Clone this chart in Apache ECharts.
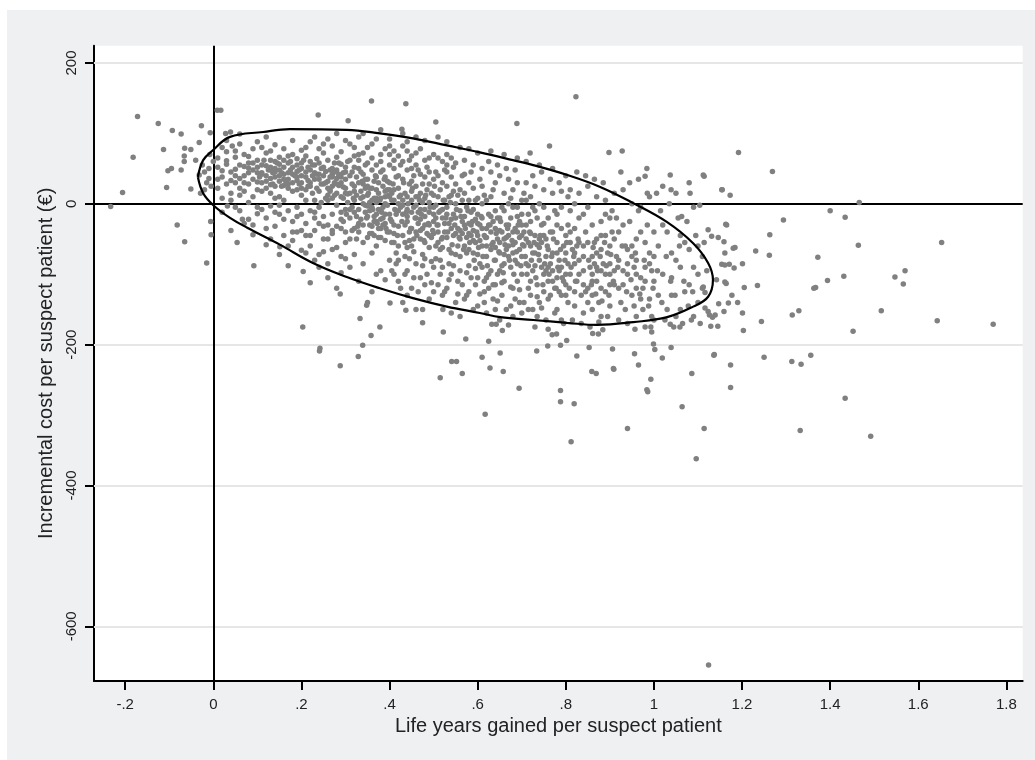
<!DOCTYPE html>
<html>
<head>
<meta charset="utf-8">
<script src="https://cdn.jsdelivr.net/npm/echarts@6/dist/echarts.min.js"></script>
<style>html,body{margin:0;padding:0;background:#fff}#c{width:1035px;height:760px}</style>
</head>
<body>
<div id="c"></div>
<script>
// ---- data ----
const xTicks = [-0.2, 0, 0.2, 0.4, 0.6, 0.8, 1, 1.2, 1.4, 1.6, 1.8];
const yTicks = [-600, -400, -200, 0, 200];
const yGridValues = [200, -200, -400, -600];
const xTitle = 'Life years gained per suspect patient';
const yTitle = 'Incremental cost per suspect patient (€)';

// dense cloud inside / around the ellipse [life years, cost]
const coreSamples = [
[0.01,52],[0.02,38],[0.01,22],[0.03,61],[0.02,8],[0.04,45],[0.05,30],[0.03,74],[0.06,55],[0.04,15],[0.07,40],[0.05,66],[0.08,28],[0.06,12],[0.09,48],[0.07,70],[0.08,58],[0.09,35],[0.1,20],[0.1,62],[0.02,-12],[0.05,-5],[0.08,2],[0.03,90],[0.06,85],[0.09,78],[0.1,44],[0.04,33],[0.07,18],[0.01,65],[0.02,47],[0.06,36],[0.08,51],[0.05,49],[0.03,28],[0.09,10],[0.1,-14],[0.07,-28],[0.04,-38],[0.09,-44],[0.06,99],[0.1,88],[0.02,80],[0.01,35],[0.08,67],[0.05,75],[0.07,53],[0.1,31],[0.03,56],[0.04,5],
[0.11,55],[0.12,40],[0.13,62],[0.14,25],[0.15,48],[0.16,35],[0.17,58],[0.18,42],[0.19,20],[0.2,50],[0.11,30],[0.12,72],[0.13,15],[0.14,45],[0.15,66],[0.16,5],[0.17,28],[0.18,70],[0.19,38],[0.2,12],[0.11,80],[0.12,22],[0.13,48],[0.14,60],[0.15,32],[0.16,52],[0.17,44],[0.18,18],[0.19,64],[0.2,30],[0.11,-8],[0.12,-20],[0.13,-3],[0.14,-32],[0.15,-15],[0.16,-45],[0.17,-10],[0.18,-25],[0.19,-5],[0.2,-38],[0.12,95],[0.14,84],[0.16,78],[0.18,90],[0.2,76],[0.13,36],[0.15,10],[0.17,68],[0.19,46],[0.11,44],[0.12,54],[0.14,38],[0.16,26],[0.18,52],[0.2,58],[0.13,27],[0.15,56],[0.17,22],[0.19,33],[0.16,42],[0.14,8],[0.18,-52],[0.12,-58],[0.2,-66],[0.15,-72],[0.17,-88],[0.19,-40],[0.11,18],[0.13,75],[0.2,40],
[0.21,45],[0.22,30],[0.23,55],[0.24,18],[0.25,40],[0.26,62],[0.27,25],[0.28,48],[0.29,10],[0.3,35],[0.21,20],[0.22,60],[0.23,5],[0.24,42],[0.25,28],[0.26,12],[0.27,50],[0.28,-2],[0.29,38],[0.3,22],[0.21,68],[0.22,-10],[0.23,35],[0.24,58],[0.25,-18],[0.26,32],[0.27,8],[0.28,66],[0.29,-12],[0.3,52],[0.21,-28],[0.22,48],[0.23,-20],[0.24,-5],[0.25,72],[0.26,-30],[0.27,38],[0.28,15],[0.29,56],[0.3,-8],[0.21,80],[0.22,88],[0.23,95],[0.24,78],[0.25,85],[0.26,92],[0.27,82],[0.28,100],[0.29,74],[0.3,90],[0.21,-45],[0.22,-60],[0.23,-38],[0.24,-72],[0.25,-50],[0.26,-85],[0.27,-42],[0.28,-62],[0.29,-98],[0.3,-55],[0.215,33],[0.235,22],[0.255,46],[0.275,30],[0.295,44],[0.225,15],[0.245,28],[0.265,48],[0.285,26],[0.305,14],[0.215,52],[0.235,64],[0.255,8],[0.275,58],[0.295,-25],[0.225,40],[0.245,2],[0.265,20],[0.285,42],[0.305,60],[0.22,-112],[0.26,-105],[0.28,-120],[0.24,-90],[0.3,-78],[0.27,-65],[0.23,-80],[0.29,-35],[0.25,-32],[0.21,5],
[0.31,40],[0.32,25],[0.33,50],[0.34,10],[0.35,35],[0.36,-5],[0.37,20],[0.38,45],[0.39,0],[0.4,30],[0.31,15],[0.32,-12],[0.33,30],[0.34,42],[0.35,-18],[0.36,22],[0.37,-25],[0.38,8],[0.39,38],[0.4,-15],[0.31,-20],[0.32,52],[0.33,-8],[0.34,-30],[0.35,12],[0.36,48],[0.37,2],[0.38,-35],[0.39,18],[0.4,55],[0.31,62],[0.32,5],[0.33,-40],[0.34,28],[0.35,58],[0.36,-42],[0.37,38],[0.38,-10],[0.39,-28],[0.4,10],[0.31,-50],[0.32,-35],[0.33,70],[0.34,-55],[0.35,-48],[0.36,65],[0.37,-60],[0.38,70],[0.39,-52],[0.4,-40],[0.315,28],[0.325,12],[0.335,-22],[0.345,-12],[0.355,2],[0.365,-18],[0.375,-8],[0.385,25],[0.395,-2],[0.405,5],[0.315,-5],[0.325,38],[0.335,18],[0.345,55],[0.355,-30],[0.365,8],[0.375,30],[0.385,-20],[0.395,-40],[0.405,-25],[0.31,85],[0.33,95],[0.35,80],[0.37,92],[0.39,78],[0.32,-72],[0.34,-85],[0.36,-70],[0.38,-95],[0.4,-80],[0.345,-2],[0.355,-10],[0.365,-25],[0.375,15],[0.385,-5],[0.35,-3],[0.36,5],[0.37,-15],[0.38,-22],[0.39,10],[0.33,-110],[0.36,-125],[0.39,-108],[0.35,-140],[0.37,-100],[0.31,-90],[0.34,100],[0.38,105],[0.32,68],[0.4,70],[0.355,22],[0.365,-45],[0.375,-35],[0.345,35],[0.385,48],[0.395,32],[0.335,45],[0.325,-50],[0.405,-55],[0.315,-38],
[0.41,20],[0.42,-10],[0.43,35],[0.44,-25],[0.45,5],[0.46,-40],[0.47,15],[0.48,-18],[0.49,28],[0.5,-5],[0.41,-30],[0.42,40],[0.43,-15],[0.44,10],[0.45,-35],[0.46,25],[0.47,-50],[0.48,38],[0.49,-30],[0.5,12],[0.41,50],[0.42,0],[0.43,-45],[0.44,48],[0.45,-12],[0.46,-2],[0.47,42],[0.48,-55],[0.49,2],[0.5,-42],[0.41,-55],[0.42,-60],[0.43,60],[0.44,-62],[0.45,32],[0.46,55],[0.47,-22],[0.48,8],[0.49,-62],[0.5,35],[0.41,5],[0.42,22],[0.43,-2],[0.44,-8],[0.45,18],[0.46,-20],[0.47,-8],[0.48,-30],[0.49,-12],[0.5,-25],[0.415,-15],[0.425,12],[0.435,-30],[0.445,28],[0.455,-50],[0.465,10],[0.475,-35],[0.485,20],[0.495,-48],[0.505,-60],[0.41,75],[0.43,82],[0.45,68],[0.47,78],[0.49,65],[0.42,-80],[0.44,-95],[0.46,-85],[0.48,-78],[0.5,-90],[0.415,-70],[0.435,-75],[0.455,-68],[0.475,-72],[0.495,-82],[0.425,55],[0.445,62],[0.465,48],[0.485,52],[0.505,45],[0.42,-110],[0.45,-120],[0.48,-115],[0.44,-130],[0.47,-105],[0.5,-125],[0.43,-140],[0.46,-150],[0.41,-100],[0.49,-135],[0.43,100],[0.46,95],[0.4,92],[0.48,90],[0.44,88],[0.455,-5],[0.465,-28],[0.475,2],[0.445,-40],[0.435,15],
[0.51,10],[0.52,-20],[0.53,25],[0.54,-35],[0.55,0],[0.56,-50],[0.57,15],[0.58,-28],[0.59,-8],[0.6,-45],[0.51,-30],[0.52,30],[0.53,-5],[0.54,12],[0.55,-42],[0.56,20],[0.57,-60],[0.58,5],[0.59,-38],[0.6,-15],[0.51,-55],[0.52,-8],[0.53,-48],[0.54,38],[0.55,-20],[0.56,-10],[0.57,-30],[0.58,-65],[0.59,22],[0.6,8],[0.51,40],[0.52,-62],[0.53,45],[0.54,-70],[0.55,28],[0.56,-75],[0.57,42],[0.58,30],[0.59,-70],[0.6,-72],[0.515,-10],[0.525,5],[0.535,-28],[0.545,-15],[0.555,-60],[0.565,-25],[0.575,-5],[0.585,-45],[0.595,-22],[0.605,-30],[0.51,65],[0.53,70],[0.55,58],[0.57,62],[0.59,55],[0.52,-90],[0.54,-100],[0.56,-95],[0.58,-88],[0.6,-105],[0.515,-80],[0.535,-85],[0.555,-110],[0.575,-98],[0.595,-115],[0.525,48],[0.545,52],[0.565,40],[0.585,45],[0.605,35],[0.52,-130],[0.55,-140],[0.58,-125],[0.54,-155],[0.57,-135],[0.6,-145],[0.53,-120],[0.56,-160],[0.51,-115],[0.59,-150],[0.53,88],[0.56,80],[0.51,95],[0.58,78],[0.6,72],[0.555,-35],[0.565,5],[0.575,-48],[0.545,18],[0.535,-65],[0.525,-40],[0.585,-12],[0.595,-55],[0.505,-20],[0.515,20],
[0.61,-20],[0.62,5],[0.63,-40],[0.64,-10],[0.65,-55],[0.66,15],[0.67,-30],[0.68,-70],[0.69,-5],[0.7,-45],[0.61,-60],[0.62,-35],[0.63,10],[0.64,-80],[0.65,-20],[0.66,-50],[0.67,0],[0.68,-40],[0.69,-85],[0.7,-15],[0.61,25],[0.62,-75],[0.63,-65],[0.64,30],[0.65,-95],[0.66,-85],[0.67,-60],[0.68,20],[0.69,-40],[0.7,-75],[0.615,-45],[0.625,-15],[0.635,-25],[0.645,-50],[0.655,-5],[0.665,-30],[0.675,-90],[0.685,-55],[0.695,-25],[0.705,-60],[0.61,50],[0.63,45],[0.65,40],[0.67,35],[0.69,30],[0.62,-105],[0.64,-115],[0.66,-110],[0.68,-120],[0.7,-100],[0.615,-125],[0.635,-135],[0.655,-130],[0.675,-145],[0.695,-140],[0.625,60],[0.645,55],[0.665,50],[0.685,48],[0.705,15],[0.62,-155],[0.65,-165],[0.68,-160],[0.64,-150],[0.67,-172],[0.7,-155],[0.61,-90],[0.66,70],[0.69,65],[0.63,75],[0.65,-70],[0.67,-75],[0.62,-60],[0.64,-35],[0.66,-10],[0.68,-5],[0.7,5],[0.61,0],[0.63,-95],[0.69,-110],[0.655,-40],[0.665,-65],[0.675,-20],[0.685,-80],[0.695,-65],[0.605,-85],[0.615,-110],[0.625,-120],[0.635,20],[0.645,-100],
[0.71,-30],[0.72,-60],[0.73,-10],[0.74,-80],[0.75,-45],[0.76,-20],[0.77,-95],[0.78,-55],[0.79,-35],[0.8,-70],[0.71,-85],[0.72,-25],[0.73,-70],[0.74,-50],[0.75,-100],[0.76,-65],[0.77,-40],[0.78,-15],[0.79,-90],[0.8,-45],[0.71,5],[0.72,10],[0.73,-45],[0.74,0],[0.75,-5],[0.76,-110],[0.77,-70],[0.78,-105],[0.79,-5],[0.8,-100],[0.715,-55],[0.725,-95],[0.735,-115],[0.745,-30],[0.755,-75],[0.765,-40],[0.775,-120],[0.785,-80],[0.795,-60],[0.805,-30],[0.71,30],[0.73,25],[0.75,20],[0.77,15],[0.79,18],[0.72,-130],[0.74,-140],[0.76,-135],[0.78,-150],[0.8,-130],[0.715,-150],[0.735,-160],[0.755,-165],[0.775,-155],[0.795,-170],[0.725,40],[0.745,45],[0.765,35],[0.785,30],[0.805,10],[0.71,60],[0.74,55],[0.77,50],[0.8,40],[0.73,-175],[0.76,-178],[0.79,-165],[0.72,-110],[0.75,-125],[0.78,-30],[0.755,-50],[0.765,-85],[0.745,-90],[0.735,-20],[0.775,-10],[0.785,-125],[0.795,-110],[0.805,-85],[0.715,-120],[0.725,-5],
[0.81,-40],[0.82,-70],[0.83,-20],[0.84,-95],[0.85,-55],[0.86,-30],[0.87,-110],[0.88,-65],[0.89,-45],[0.9,-85],[0.81,-100],[0.82,-35],[0.83,-80],[0.84,-60],[0.85,-120],[0.86,-75],[0.87,-50],[0.88,-25],[0.89,-100],[0.9,-60],[0.81,-10],[0.82,0],[0.83,-55],[0.84,-15],[0.85,-5],[0.86,-130],[0.87,-90],[0.88,-120],[0.89,-15],[0.9,-115],[0.815,-65],[0.825,-110],[0.835,-130],[0.845,-40],[0.855,-90],[0.865,-55],[0.875,-140],[0.885,-85],[0.895,-70],[0.905,-40],[0.81,20],[0.83,15],[0.85,25],[0.87,10],[0.89,5],[0.82,-145],[0.84,-155],[0.86,-150],[0.88,-160],[0.9,-145],[0.815,-165],[0.835,-170],[0.855,-175],[0.875,-168],[0.895,-160],[0.825,45],[0.845,40],[0.865,35],[0.885,30],[0.905,-10],[0.84,-115],[0.86,-100],[0.88,-45],[0.82,-125],[0.9,-20],
[0.91,-50],[0.92,-80],[0.93,-30],[0.94,-100],[0.95,-60],[0.96,-120],[0.97,-40],[0.98,-90],[0.99,-70],[1.0,-110],[0.91,-115],[0.92,-40],[0.93,-95],[0.94,-65],[0.95,-130],[0.96,-80],[0.97,-105],[0.98,-55],[0.99,-135],[1.0,-75],[0.915,-20],[0.925,-140],[0.935,-150],[0.945,-25],[0.955,-90],[0.965,-10],[0.975,-150],[0.985,-30],[0.995,-160],[1.0,-40],[0.91,15],[0.93,20],[0.95,0],[0.97,-5],[0.99,10],[0.92,-165],[0.94,-170],[0.96,-160],[0.98,-175],[1.0,-165],[0.925,45],[0.945,30],[0.965,35],[0.985,15],[0.995,-95],[0.915,-75],[0.935,-60],[0.955,-145],[0.975,-120],[0.96,-50],
[1.01,-60],[1.02,-100],[1.03,-40],[1.04,-130],[1.05,-80],[1.06,-150],[1.07,-55],[1.08,-115],[1.09,-90],[1.1,-140],[1.01,-130],[1.02,-30],[1.03,-150],[1.04,-70],[1.05,-160],[1.06,-90],[1.07,-125],[1.08,-65],[1.09,-160],[1.1,-100],[1.015,-10],[1.035,0],[1.055,-20],[1.075,-25],[1.095,-45],[1.025,-165],[1.045,-175],[1.065,-170],[1.085,-165],[1.105,-170],[1.02,25],[1.05,15],[1.08,30],[1.11,-75],[1.04,-105],[1.06,-45],[1.09,-5],[1.1,-60],[1.11,-120],[1.12,-95],
[0.26,5],[0.27,-15],[0.28,28],[0.29,-22],[0.3,45],[0.31,-8],[0.32,18],[0.33,-28],[0.34,0],[0.35,25],[0.36,-32],[0.37,8],[0.38,-48],[0.39,-15],[0.4,20],[0.41,-42],[0.42,-32],[0.43,5],[0.44,-18],[0.45,-60],[0.46,10],[0.47,-38],[0.48,-8],[0.49,-45],[0.5,-15],[0.51,-40],[0.52,-48],[0.53,-15],[0.54,-22],[0.55,-72],[0.56,-38],[0.57,-18],[0.58,-42],[0.59,-52],[0.6,-28],[0.61,-35],[0.62,-48],[0.63,-18],[0.64,-62],[0.65,-38],[0.66,-72],[0.67,-45],[0.68,-58],[0.69,-18],[0.7,-30],[0.71,-50],[0.72,-42],[0.73,-88],[0.74,-62],[0.75,-28],[0.265,18],[0.285,40],[0.305,2],[0.325,-18],[0.345,22],[0.365,32],[0.385,-30],[0.405,15],[0.425,-5],[0.445,-52],[0.465,-12],[0.485,-42],[0.505,-2],[0.525,-28],[0.545,-45],[0.565,-42],[0.585,-30],[0.605,-52],[0.625,-30],[0.645,-20],[0.665,-48],[0.685,-35],[0.705,-40],[0.725,-70],[0.745,-55],[0.275,12],[0.295,24],[0.315,45],[0.335,8],[0.355,-42],[0.375,-48],[0.395,20],[0.415,38],[0.435,-55],[0.455,40],[0.475,28],[0.495,15],[0.515,-65],[0.535,10],[0.555,12],[0.575,-70],[0.595,5],[0.615,12],[0.635,-55],[0.655,-88],[0.675,8],[0.695,-48],[0.715,-15],[0.735,-58],[0.755,-95],
[0.05,40],[0.07,30],[0.09,58],[0.11,42],[0.13,52],[0.15,40],[0.17,35],[0.19,55],[0.21,38],[0.23,44],[0.25,52],[0.27,42],[0.29,30],[0.12,32],[0.14,50],[0.16,62],[0.18,30],[0.2,22],[0.22,25],[0.24,35],[0.26,22],[0.28,36],[0.3,15],[0.06,22],[0.08,44],[0.1,52],[0.135,44],[0.155,25],[0.175,48],[0.195,28],
[0.76,-90],[0.78,-70],[0.8,-115],[0.82,-85],[0.84,-75],[0.86,-110],[0.88,-95],[0.9,-100],[0.92,-120],[0.94,-85],[0.96,-100],[0.98,-110],[0.77,-110],[0.79,-130],[0.81,-55],[0.83,-100],[0.85,-140],[0.87,-70],[0.89,-125],[0.91,-95],[0.93,-115],[0.95,-75],[0.97,-135],[0.99,-85],[0.765,-130],[0.785,-95],[0.805,-140],[0.825,-60],[0.845,-125],[0.865,-85],
[-0.02,45],[-0.015,30],[-0.025,55],[-0.01,50],[-0.005,25],[-0.02,20],[0.0,60],[-0.008,70],
[0.302,-15],[0.318,8],[0.328,-32],[0.338,32],[0.348,-20],[0.352,15],[0.362,-8],[0.368,40],[0.372,-28],[0.378,5],[0.382,-12],[0.388,35],[0.392,-35],[0.398,12],[0.402,-22],[0.408,28],[0.412,-8],[0.418,-45],[0.422,10],[0.428,-25],[0.432,30],[0.438,-12],[0.442,0],[0.448,-35],[0.452,22],[0.458,-20],[0.462,-45],[0.468,5],[0.472,-15],[0.478,-52],[0.482,12],[0.488,-28],[0.492,-5],[0.498,-38],[0.502,25],[0.508,-30],[0.512,-12],[0.518,-50],[0.522,5],[0.528,-20],[0.532,-40],[0.538,2],[0.542,-58],[0.548,-30],[0.552,-8],[0.558,-48],[0.562,-18],[0.568,-65],[0.572,-35],[0.578,-10],
[0.582,-55],[0.588,-25],[0.592,-80],[0.598,-40],[0.602,-62],[0.608,-18],[0.612,-75],[0.618,-48],[0.622,-88],[0.628,-30],[0.632,-58],[0.638,-80],[0.642,-42],[0.648,-68],[0.652,-25],[0.658,-98],[0.662,-58],[0.668,-35],[0.672,-80],[0.678,-52],[0.682,-100],[0.688,-68],[0.692,-30],[0.698,-88],[0.702,-58],[0.708,-75],[0.712,-100],[0.718,-40],[0.722,-80],[0.728,-55],[0.732,-105],[0.738,-72],[0.742,-45],[0.748,-115],[0.752,-85],[0.758,-60],[0.762,-100],[0.768,-75],[0.772,-50],[0.778,-120],[0.782,-90],[0.788,-65],[0.792,-105],[0.798,-80],[0.802,-55],[0.808,-120],[0.812,-90],[0.818,-75],[0.822,-110],[0.828,-50],
[0.405,-95],[0.415,-85],[0.425,-120],[0.435,-100],[0.445,-78],[0.455,-105],[0.465,-125],[0.475,-88],[0.485,-100],[0.495,-112],[0.505,-78],[0.515,-100],[0.525,-125],[0.535,-108],[0.545,-88],[0.555,-128],[0.565,-115],[0.575,-130],[0.585,-105],[0.595,-92],[0.605,-128],[0.615,-140],[0.625,-100],[0.635,-115],[0.645,-138],[0.655,-112],[0.665,-150],[0.675,-118],[0.685,-135],[0.695,-122],[0.705,-140],[0.715,-88],[0.725,-150],[0.735,-132],[0.745,-148],
[0.06,-10],[0.08,-22],[0.1,-5],[0.12,-35],[0.14,-12],[0.16,-22],[0.18,-40],[0.2,-15],[0.22,-45],[0.24,-28],[0.26,-50],[0.28,-32],[0.3,-40],[0.09,-30],[0.13,-50],[0.17,-60],[0.21,-70],[0.25,-68],[0.29,-75],[0.15,-2],[0.19,-18],[0.23,-12],[0.27,-38],
[0.105,38],[0.115,62],[0.125,48],[0.135,28],[0.145,58],[0.155,44],[0.165,30],[0.175,60],[0.185,40],[0.195,48],[0.205,62],[0.215,25],[0.225,55],[0.235,42],[0.245,50],[0.255,30],[0.265,38],[0.275,45],[0.285,58],[0.295,8],
[0.32,80],[0.34,72],[0.36,85],[0.38,60],[0.4,82],[0.42,68],[0.44,75],[0.46,72],[0.48,62],[0.5,70],[0.52,60],[0.54,65],[0.33,62],[0.37,55],[0.41,62],[0.45,50],[0.49,45],[0.53,55],
[0.852,-80],[0.858,-115],[0.862,-62],[0.868,-128],[0.872,-95],[0.878,-75],[0.882,-138],[0.888,-55],[0.892,-88],[0.898,-130],[0.902,-72],[0.908,-110],[0.918,-90],[0.928,-60],[0.938,-125],[0.948,-108],[0.958,-70],[0.968,-128],[0.978,-80],[0.988,-145],[0.998,-120],[1.008,-95],[1.018,-140],[1.028,-75],[1.038,-110],[1.048,-130],[1.058,-60],[1.068,-110],[1.078,-145],[1.088,-125]
];

// scattered points outside the ellipse
const outerSamples = [
[-0.172,124],[-0.125,114],[-0.093,104],[-0.073,99],[-0.027,111],[-0.007,101],[0.009,133],[0.017,133],[-0.113,77],[-0.065,79],[-0.051,77],[-0.032,87],[-0.182,66],[-0.066,68],[-0.04,62],[-0.095,50],[-0.103,47],[-0.073,48],[-0.066,60],[-0.032,41],[-0.01,36],[-0.106,23],[-0.051,21],[-0.029,15],[-0.206,16],[-0.233,-4],[-0.082,-30],[-0.065,-54],[-0.006,-25],[-0.005,-44],[-0.015,-84],[0.054,-55],[0.092,-88],[0.032,-3],[0.066,-22],[0.028,100],[0.039,102],[0.043,82],
[0.359,146],[0.437,142],[0.238,126],[0.306,118],[0.505,116],[0.689,114],[0.823,152],[0.763,82],[0.719,72],[0.898,73],[0.928,75],[0.428,106],
[1.192,73],[1.114,39],[1.269,46],[1.155,20],[1.173,12],[1.466,2],[1.4,-10],[1.434,-19],[1.294,-23],[1.263,-44],[1.653,-55],[1.464,-59],[1.372,-76],[1.231,-67],[1.262,-73],[1.163,-29],[1.123,-37],[1.131,-46],[1.146,-48],[1.159,-54],[1.18,-63],[1.184,-62],[1.161,-70],[1.114,-55],[1.154,-86],[1.161,-87],[1.171,-86],[1.182,-91],[1.201,-85],[1.142,-108],[1.161,-111],[1.164,-113],[1.205,-119],[1.235,-116],[1.363,-120],[1.367,-119],[1.394,-109],[1.431,-103],[1.547,-104],[1.57,-95],[1.566,-114],[1.177,-130],[1.112,-118],[1.116,-126],[1.147,-142],[1.169,-141],[1.19,-140],[1.116,-148],[1.123,-153],[1.139,-158],[1.133,-161],[1.159,-153],[1.201,-155],[1.129,-174],[1.145,-174],[1.203,-180],[1.244,-167],[1.314,-158],[1.329,-152],[1.516,-152],[1.643,-166],[1.77,-171],[1.452,-181],
[1.136,-215],[1.174,-229],[1.25,-218],[1.313,-224],[1.334,-228],[1.356,-215],[1.174,-261],[1.434,-276],[1.114,-319],[1.332,-322],[1.492,-330],[1.124,-655],
[0.203,-175],[0.241,-209],[0.288,-230],[0.333,-163],[0.358,-187],[0.378,-175],[0.339,-201],[0.329,-217],[0.475,-169],[0.522,-182],[0.573,-192],[0.541,-224],[0.552,-224],[0.565,-241],[0.515,-247],[0.61,-218],[0.625,-195],[0.628,-233],[0.651,-212],[0.658,-238],[0.617,-299],[0.694,-262],[0.656,-180],[0.632,-171],[0.642,-171],[0.734,-209],[0.759,-202],[0.769,-186],[0.779,-185],[0.788,-201],[0.802,-194],[0.825,-216],[0.788,-265],[0.788,-281],[0.819,-284],[0.812,-338],[0.853,-204],[0.859,-238],[0.869,-241],[0.861,-184],[0.874,-185],[0.884,-179],[0.906,-206],[0.909,-235],[0.956,-213],[0.965,-229],[0.957,-178],[0.993,-175],[0.995,-182],[0.999,-199],[1.002,-207],[1.019,-219],[0.993,-249],[0.986,-267],[1.039,-204],[1.037,-171],[1.059,-175],[1.086,-241],[1.064,-288],[0.94,-319],[1.096,-362],[1.137,-214],[1.126,-158],[0.348,-144],[0.401,-141],[0.437,-151],[0.475,-150],[0.521,-150],
[0.288,-128],[0.204,-96],[0.151,-61],[0.242,-205],
[1.104,-2],[1.165,-30],[1.063,-18],[1.037,41],[0.98,39],[1.006,15],[1.112,41],[1.154,20],[1.082,15],[1.039,20],[0.984,50],[0.908,-234],[0.984,-264]
];

// confidence ellipse outline
const ellipseOutline = [
[-0.035,38],[-0.023,62],[-0.001,76],[0.038,95],[0.113,102],[0.174,106],[0.303,105],[0.378,100],[0.453,93],[0.53,83],[0.605,73],[0.68,62],[0.726,55],[0.803,41],[0.878,24],[0.953,1],[1.03,-26],[1.089,-56],[1.123,-84],[1.134,-108],[1.123,-132],[1.089,-146],[1.03,-161],[0.953,-168],[0.871,-172],[0.803,-169],[0.726,-165],[0.651,-161],[0.605,-155],[0.53,-146],[0.453,-134],[0.378,-120],[0.303,-104],[0.226,-84],[0.151,-58],[0.077,-34],[0.038,-20],[0.0,-2],[-0.023,15],[-0.035,38]
];

const FONT = '"Liberation Sans", Arial, sans-serif';
const fmtX = v => (v === 0 ? '0' : String(v).replace('0.', '.'));

const chart = echarts.init(document.getElementById('c'), null, {renderer: 'canvas'});
chart.setOption({
  animation: false,
  backgroundColor: '#eef0f2',
  graphic: [
    {type: 'rect', silent: true, shape: {x: 0, y: 0, width: 1035, height: 10}, style: {fill: '#fff'}},
    {type: 'rect', silent: true, shape: {x: 0, y: 0, width: 7, height: 760}, style: {fill: '#fff'}}
  ],
  grid: {left: 94, right: 12.3, top: 45.7, bottom: 79, show: true, backgroundColor: '#fff', borderWidth: 0, containLabel: false, outerBoundsMode: 'none'},
  xAxis: {
    type: 'value', min: -0.2708, max: 1.837,
    splitLine: {show: false},
    axisLine: {show: true, onZero: false, lineStyle: {color: '#000', width: 2}},
    axisTick: {show: true, customValues: xTicks, length: 9, lineStyle: {color: '#000', width: 2}},
    axisLabel: {customValues: xTicks, formatter: fmtX, fontSize: 15, color: '#222', margin: 16, fontFamily: FONT},
    name: xTitle, nameLocation: 'middle', nameGap: 32,
    nameTextStyle: {fontSize: 20, color: '#222', fontFamily: FONT}
  },
  yAxis: {
    type: 'value', min: -677.6, max: 224.5,
    splitLine: {show: false},
    axisLine: {show: true, onZero: false, lineStyle: {color: '#000', width: 2}},
    axisTick: {show: true, customValues: yTicks, length: 9, lineStyle: {color: '#000', width: 2}},
    axisLabel: {customValues: yTicks, rotate: 90, fontSize: 15, color: '#222', margin: 15, fontFamily: FONT},
    name: yTitle, nameLocation: 'middle', nameGap: 32, nameRotate: 90,
    nameTextStyle: {fontSize: 20, color: '#222', fontFamily: FONT}
  },
  series: [
    {
      type: 'scatter', data: [], silent: true, z: 1,
      markLine: {
        silent: true, symbol: 'none', z: 1, animation: false,
        label: {show: false},
        data: yGridValues.map(v => ({yAxis: v, lineStyle: {color: '#e4e6e8', width: 2, type: 'solid'}}))
          .concat([
            {xAxis: 0, lineStyle: {color: '#000', width: 2, type: 'solid'}},
            {yAxis: 0, lineStyle: {color: '#000', width: 2, type: 'solid'}}
          ])
      }
    },
    {
      type: 'scatter', data: coreSamples.concat(outerSamples), silent: true, z: 2,
      symbol: 'circle', symbolSize: 5.5, large: false,
      itemStyle: {color: '#808080', opacity: 1}
    },
    {
      type: 'line', data: ellipseOutline, silent: true, z: 3,
      smooth: 0.4, showSymbol: false, symbol: 'none',
      lineStyle: {color: '#000', width: 2.2}
    }
  ]
});
</script>
</body>
</html>
